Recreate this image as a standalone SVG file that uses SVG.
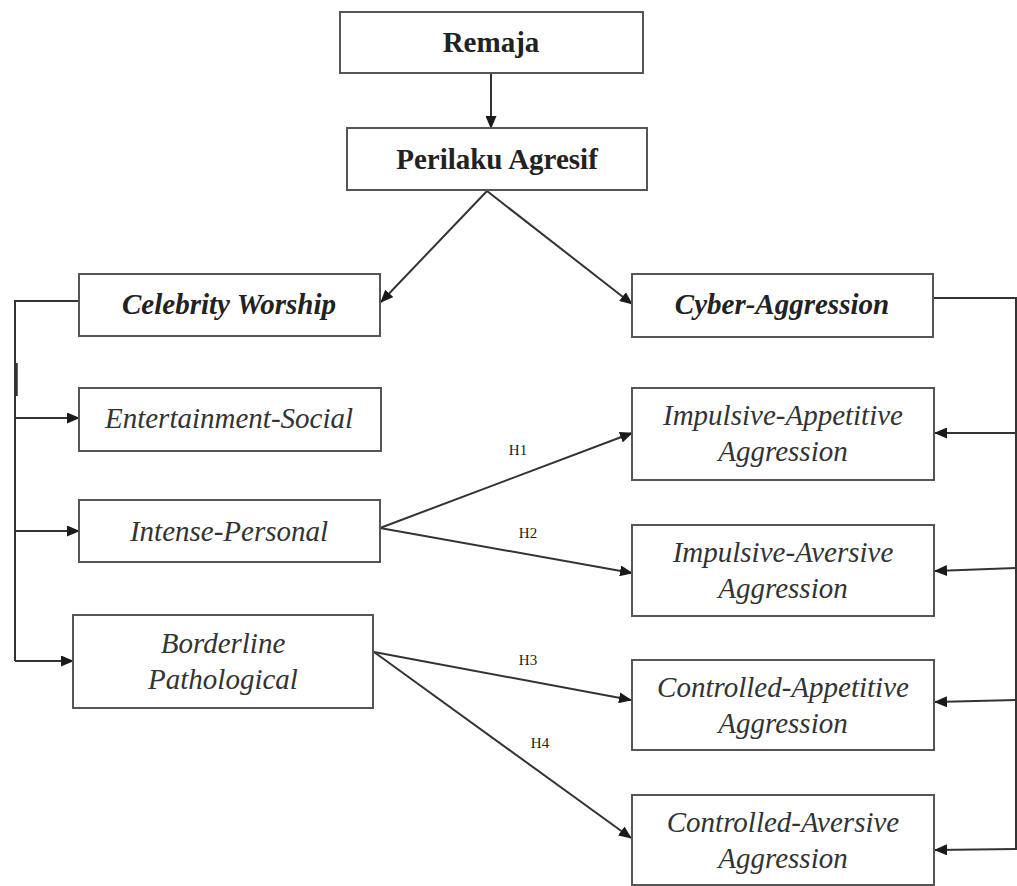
<svg xmlns="http://www.w3.org/2000/svg" width="1017" height="886" viewBox="0 0 1017 886">
<defs>
<marker id="ah" markerUnits="userSpaceOnUse" markerWidth="13" markerHeight="11" refX="12" refY="5.5" orient="auto">
<path d="M0,0 L13,5.5 L0,11 z" fill="#1a1a1a"/>
</marker>
<style>
.box{fill:#fff;stroke:#555;stroke-width:2}
.ln{fill:none;stroke:#333;stroke-width:2}
.ar{fill:none;stroke:#333;stroke-width:2;marker-end:url(#ah)}
.b{font-family:"Liberation Serif",serif;font-weight:bold;font-size:29px;fill:#222;text-anchor:middle}
.bi{font-family:"Liberation Serif",serif;font-weight:bold;font-style:italic;font-size:29px;fill:#222;text-anchor:middle}
.i{font-family:"Liberation Serif",serif;font-style:italic;font-size:29px;fill:#333;text-anchor:middle}
.h{font-family:"Liberation Serif",serif;font-size:15px;fill:#222;text-anchor:middle}
</style>
</defs>
<rect width="1017" height="886" fill="#fff"/>
<g id="connectors">
<path class="ar" d="M491,73 L491,128"/>
<path class="ar" d="M487,191 L381,302"/>
<path class="ar" d="M487,191 L632,304"/>
<path class="ln" d="M79,301 L15,301 L15,661"/>
<path class="ln" d="M16,363 L16,396" style="stroke-width:3.5"/>
<path class="ar" d="M15,418 L79,418"/>
<path class="ar" d="M15,531 L79,531"/>
<path class="ar" d="M15,661 L73,661"/>
<path class="ln" d="M933,298 L1016,298 L1016,850"/>
<path class="ar" d="M1016,433 L935,433"/>
<path class="ar" d="M1016,568 L935,571"/>
<path class="ar" d="M1016,700 L935,702"/>
<path class="ar" d="M1016,849 L935,850"/>
<path class="ar" d="M380,528 L632,433"/>
<path class="ar" d="M380,528 L632,573"/>
<path class="ar" d="M374,652 L631,700"/>
<path class="ar" d="M374,652 L631,838"/>
<text class="h" x="518" y="455">H1</text>
<text class="h" x="528" y="538">H2</text>
<text class="h" x="528" y="665">H3</text>
<text class="h" x="540" y="748">H4</text>
</g>
<g id="remaja"><rect class="box" x="340" y="12" width="303" height="61"/><text class="b" x="491" y="52">Remaja</text></g>
<g id="perilaku"><rect class="box" x="347" y="128" width="300" height="62"/><text class="b" x="497" y="169">Perilaku Agresif</text></g>
<g id="celebrity"><rect class="box" x="79" y="274" width="301" height="62"/><text class="bi" x="229" y="314">Celebrity Worship</text></g>
<g id="cyber"><rect class="box" x="632" y="274" width="301" height="63"/><text class="bi" x="782" y="314">Cyber-Aggression</text></g>
<g id="entertainment"><rect class="box" x="79" y="388" width="302" height="63"/><text class="i" x="229" y="428">Entertainment-Social</text></g>
<g id="intense"><rect class="box" x="79" y="500" width="301" height="62"/><text class="i" x="229" y="541">Intense-Personal</text></g>
<g id="borderline"><rect class="box" x="73" y="615" width="300" height="93"/><text class="i" x="223" y="653">Borderline</text><text class="i" x="223" y="689">Pathological</text></g>
<g id="impulsive-appetitive"><rect class="box" x="632" y="388" width="302" height="92"/><text class="i" x="783" y="425">Impulsive-Appetitive</text><text class="i" x="783" y="461">Aggression</text></g>
<g id="impulsive-aversive"><rect class="box" x="632" y="525" width="302" height="91"/><text class="i" x="783" y="562">Impulsive-Aversive</text><text class="i" x="783" y="598">Aggression</text></g>
<g id="controlled-appetitive"><rect class="box" x="632" y="660" width="302" height="90"/><text class="i" x="783" y="697">Controlled-Appetitive</text><text class="i" x="783" y="733">Aggression</text></g>
<g id="controlled-aversive"><rect class="box" x="632" y="795" width="302" height="90"/><text class="i" x="783" y="832">Controlled-Aversive</text><text class="i" x="783" y="868">Aggression</text></g>
</svg>
